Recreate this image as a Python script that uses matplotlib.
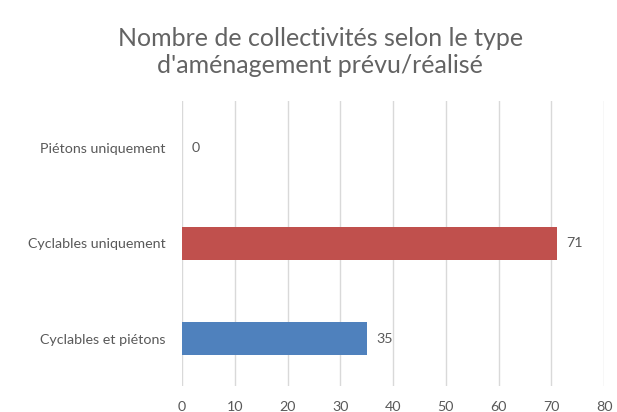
import matplotlib.pyplot as plt

categories = ['Cyclables et piétons', 'Cyclables uniquement', 'Piétons uniquement']
values = [35, 71, 0]
bar_colors = ['#4f81bd', '#c0504d', '#9bbb59']
x_ticks = [0, 10, 20, 30, 40, 50, 60, 70, 80]

plt.rcParams['font.family'] = ['Lato', 'DejaVu Sans']
text_color = '#595959'

fig = plt.figure(figsize=(6.17, 4.12), dpi=100)
ax = fig.add_axes([0.295, 0.063, 0.684, 0.692])

ax.barh(range(len(categories)), values, height=0.35, color=bar_colors, zorder=3)
for i, v in enumerate(values):
    ax.text(v + 1.8, i, str(v), va='center', ha='left', fontsize=10.3, color=text_color)

ax.set_xlim(0, 80)
ax.set_ylim(-0.5, 2.5)
ax.set_xticks(x_ticks)
ax.set_yticks(range(len(categories)))
ax.set_yticklabels(categories)
ax.tick_params(axis='both', length=0, labelsize=10.3, labelcolor=text_color)
ax.tick_params(axis='y', pad=12)
ax.tick_params(axis='x', pad=11)
ax.grid(axis='x', color='#d9d9d9', linewidth=1, zorder=0)
for s in ax.spines.values():
    s.set_visible(False)

fig.text(0.519, 0.874, "Nombre de collectivités selon le type\nd'aménagement prévu/réalisé",
         ha='center', va='center', fontsize=18, color='#636363', linespacing=1.25)

fig.savefig('out.png', dpi=100)
